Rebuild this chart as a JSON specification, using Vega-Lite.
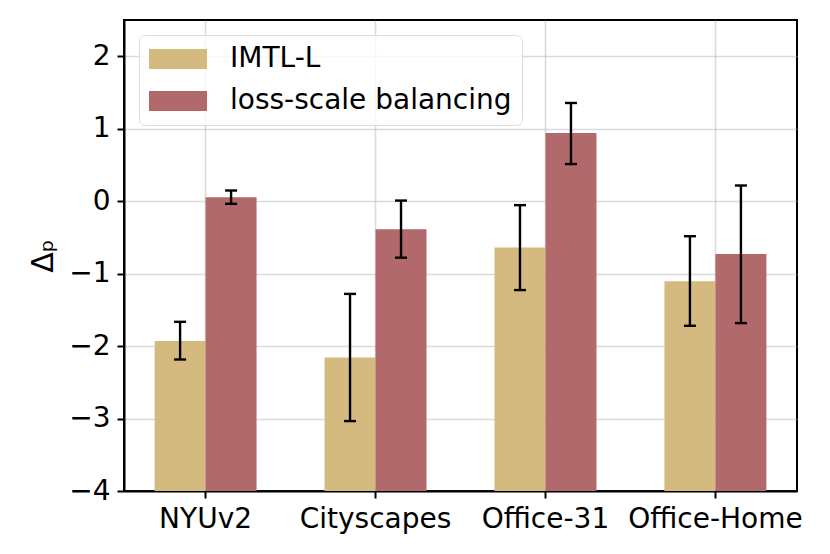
{
  "$schema": "https://vega.github.io/schema/vega-lite/v6.json",
  "autosize": {"type": "none"},
  "padding": {"left": 124, "top": 20, "right": 33, "bottom": 63},
  "width": 673,
  "height": 471,
  "background": "white",
  "data": {
    "values": [
      {"dataset": "NYUv2", "method": "IMTL-L", "value": -1.93, "lo": -2.185, "hi": -1.665},
      {"dataset": "NYUv2", "method": "loss-scale balancing", "value": 0.055, "lo": -0.037, "hi": 0.147},
      {"dataset": "Cityscapes", "method": "IMTL-L", "value": -2.158, "lo": -3.035, "hi": -1.28},
      {"dataset": "Cityscapes", "method": "loss-scale balancing", "value": -0.388, "lo": -0.78, "hi": 0.008},
      {"dataset": "Office-31", "method": "IMTL-L", "value": -0.641, "lo": -1.227, "hi": -0.055},
      {"dataset": "Office-31", "method": "loss-scale balancing", "value": 0.94, "lo": 0.512, "hi": 1.355},
      {"dataset": "Office-Home", "method": "IMTL-L", "value": -1.107, "lo": -1.72, "hi": -0.484},
      {"dataset": "Office-Home", "method": "loss-scale balancing", "value": -0.729, "lo": -1.683, "hi": 0.216}
    ]
  },
  "config": {
    "font": "DejaVu Sans",
    "view": {"stroke": "black", "strokeWidth": 2},
    "axis": {
      "labelFont": "DejaVu Sans",
      "labelFontSize": 28,
      "labelColor": "black",
      "titleFont": "DejaVu Sans",
      "titleColor": "black",
      "titleFontWeight": "normal",
      "tickColor": "black",
      "tickWidth": 2,
      "tickSize": 7,
      "domainColor": "black",
      "domainWidth": 2,
      "gridColor": "#b0b0b0",
      "gridOpacity": 0.45,
      "gridWidth": 1.6,
      "zindex": 1
    }
  },
  "encoding": {
    "x": {
      "field": "dataset",
      "type": "nominal",
      "sort": ["NYUv2", "Cityscapes", "Office-31", "Office-Home"],
      "scale": {"paddingInner": 0.4, "paddingOuter": 0.18},
      "axis": {"title": null, "labelAngle": 0, "labelPadding": 7, "grid": true, "bandPosition": 0.5}
    },
    "xOffset": {
      "field": "method",
      "type": "nominal",
      "sort": ["IMTL-L", "loss-scale balancing"],
      "scale": {"paddingInner": 0, "paddingOuter": 0}
    }
  },
  "layer": [
    {
      "mark": {"type": "bar", "opacity": 1},
      "encoding": {
        "y": {
          "field": "value",
          "type": "quantitative",
          "scale": {"domain": [-4, 2.5], "nice": false, "zero": false},
          "axis": {
            "title": "Δₚ",
            "titleFontSize": 30,
            "titlePadding": 10,
            "values": [-4, -3, -2, -1, 0, 1, 2],
            "format": "d",
            "labelPadding": 7,
            "grid": true
          }
        },
        "y2": {"datum": -4},
        "color": {
          "field": "method",
          "type": "nominal",
          "sort": ["IMTL-L", "loss-scale balancing"],
          "scale": {"range": ["#D5BA80", "#B1696C"]},
          "legend": {
            "title": null,
            "orient": "top-left",
            "offset": 15,
            "labelFontSize": 28,
            "labelFont": "DejaVu Sans",
            "labelColor": "black",
            "labelLimit": 0,
            "labelOffset": 23,
            "symbolType": "M-1,-0.345H1V0.345H-1Z",
            "symbolSize": 3364,
            "symbolStrokeWidth": 0,
            "symbolOpacity": 1,
            "clipHeight": 28,
            "rowPadding": 14,
            "padding": 10,
            "cornerRadius": 6,
            "strokeColor": "#dddddd",
            "fillColor": "rgba(255,255,255,0.8)"
          }
        }
      }
    },
    {
      "mark": {"type": "rule", "color": "black", "strokeWidth": 2.4},
      "encoding": {
        "y": {"field": "lo", "type": "quantitative"},
        "y2": {"field": "hi"}
      }
    },
    {
      "mark": {"type": "tick", "color": "black", "size": 12, "thickness": 2.4, "opacity": 1},
      "encoding": {
        "y": {"field": "lo", "type": "quantitative"}
      }
    },
    {
      "mark": {"type": "tick", "color": "black", "size": 12, "thickness": 2.4, "opacity": 1},
      "encoding": {
        "y": {"field": "hi", "type": "quantitative"}
      }
    }
  ]
}
